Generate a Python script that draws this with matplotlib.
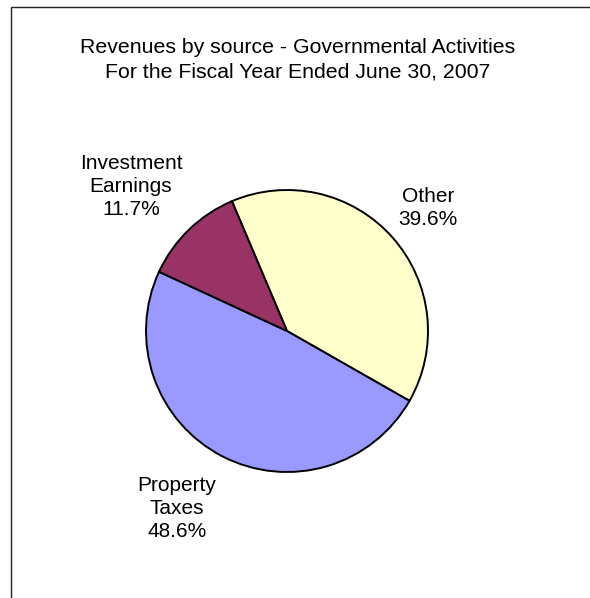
import matplotlib
matplotlib.use("Agg")
import matplotlib.pyplot as plt
from matplotlib.patches import Rectangle

plt.rcParams["font.family"] = ["Liberation Sans", "DejaVu Sans"]

# revenue shares, FY 2007 governmental activities
sources = ["Other", "Property\nTaxes", "Investment\nEarnings"]
shares = [39.6, 48.6, 11.7]
colors = ["#FFFFCC", "#9999FF", "#993366"]

title = "Revenues by source - Governmental Activities\nFor the Fiscal Year Ended June 30, 2007"

W, H = 590, 598
fig = plt.figure(figsize=(W / 100, H / 100), dpi=100)
ax = fig.add_axes([0, 0, 1, 1])
ax.set_xlim(0, W); ax.set_ylim(0, H)
ax.set_aspect("equal")
ax.axis("off")

# chart frame (runs off the right and bottom edges)
ax.add_patch(Rectangle((11, -20), W + 20, H - 7 + 20, fill=False, ec="#222222", lw=1.0))

ax.pie(shares, colors=colors, startangle=113, counterclock=False,
       radius=141, center=(287, H - 331),
       wedgeprops=dict(edgecolor="black", linewidth=1.4))
ax.set_xlim(0, W); ax.set_ylim(0, H)

# data labels sit outside the pie; anchor = centre x, baseline of last line
label_pos = {"Other": (428, 225), "Property\nTaxes": (177, 537), "Investment\nEarnings": (131, 215)}
for name, v in zip(sources, shares):
    lx, ly = label_pos[name]
    ax.text(lx, H - ly, f"{name}\n{v:.1f}%", ha="center", va="baseline",
            fontsize=15, linespacing=1.28)

ax.text(298, H - 77, title, ha="center", va="baseline", fontsize=15.3, linespacing=1.32)

fig.savefig("out.png", dpi=100)
